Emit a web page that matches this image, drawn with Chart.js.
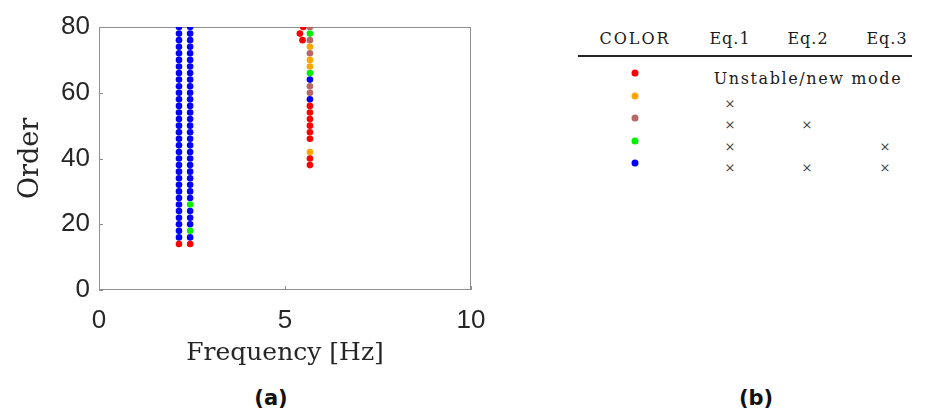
<!DOCTYPE html>
<html>
<head>
<meta charset="utf-8">
<script src="https://cdn.jsdelivr.net/npm/chart.js@4/dist/chart.umd.min.js"></script>
<style>
  body { margin: 0; background: #fff; width: 931px; height: 412px; overflow: hidden; position: relative; }
  #plot { position: absolute; left: 0; top: 0; width: 520px; height: 380px; }
  .t { position: absolute; transform: translate(-50%, -50%); white-space: nowrap; color: #1a1a1a;
       font-family: "DejaVu Serif", serif; font-size: 16px; }
  .dot { position: absolute; width: 7px; height: 7px; border-radius: 50%; transform: translate(-50%, -50%); }
  .cap { position: absolute; transform: translate(-50%, -50%); font-family: "DejaVu Sans", sans-serif;
         font-weight: bold; font-size: 21px; color: #111; }
  #rule { position: absolute; left: 578px; top: 55px; width: 334px; height: 2px; background: #222; }
</style>
</head>
<body>
<div id="plot"><canvas id="c"></canvas></div>

<div class="t" style="left:635px;top:38px;letter-spacing:2px">COLOR</div>
<div class="t" style="left:730px;top:38px;letter-spacing:1px">Eq.1</div>
<div class="t" style="left:808px;top:38px;letter-spacing:1px">Eq.2</div>
<div class="t" style="left:887px;top:38px;letter-spacing:1px">Eq.3</div>
<div id="rule"></div>
<div id="legendRows"></div>

<div class="cap" style="left:271px;top:398px">(a)</div>
<div class="cap" style="left:756px;top:398px">(b)</div>

<script>
// stabilization diagram: classes 0 = unstable/new, 1 = Eq.1, 2 = Eq.1+2, 3 = Eq.1+3, 4 = all
const classNames = ['Unstable/new mode', 'Eq.1', 'Eq.1 + Eq.2', 'Eq.1 + Eq.3', 'Eq.1 + Eq.2 + Eq.3'];
const classColors = ['#ff0000', '#ffa500', '#b86767', '#00f000', '#0000ff'];

const orders = [14, 16, 18, 20, 22, 24, 26, 28, 30, 32, 34, 36, 38, 40, 42, 44, 46,
                48, 50, 52, 54, 56, 58, 60, 62, 64, 66, 68, 70, 72, 74, 76, 78, 80];

const col1Freq = 2.15;
const col1Class = [0, 4, 4, 4, 4, 4, 4, 4, 4, 4, 4, 4, 4, 4, 4, 4, 4,
                   4, 4, 4, 4, 4, 4, 4, 4, 4, 4, 4, 4, 4, 4, 4, 4, 4];

const col2Freq = 2.45;
const col2Class = [0, 4, 3, 4, 4, 4, 3, 4, 4, 4, 4, 4, 4, 4, 4, 4, 4,
                   4, 4, 4, 4, 4, 4, 4, 4, 4, 4, 4, 4, 4, 4, 4, 4, 4];

const col3Freq = 5.67;
const col3Class = [null, null, null, null, null, null, null, null, null, null, null, null, 0, 0, 1, null, 0,
                   0, 0, 0, 0, 0, 4, 2, 2, 4, 3, 1, 1, 2, 1, 2, 3, 2];

// scattered unstable poles left of the third column
const extraFreq = [5.49, 5.40, 5.47];
const extraOrder = [80, 78, 76];

const yTicks = [0, 20, 40, 60, 80];
const xTicks = [0, 5, 10];

// group poles by class
const groups = classColors.map(() => []);
function addColumn(freq, classes) {
    classes.forEach((k, i) => {
        if (k !== null) groups[k].push({ x: freq, y: orders[i] });
    });
}
addColumn(col1Freq, col1Class);
addColumn(col2Freq, col2Class);
addColumn(col3Freq, col3Class);
extraFreq.forEach((f, i) => groups[0].push({ x: f, y: extraOrder[i] }));

const datasets = groups.map((pts, k) => ({
    label: classNames[k],
    data: pts,
    backgroundColor: classColors[k],
    borderWidth: 0,
    pointRadius: 3.3,
    pointHoverRadius: 3.3
}));

// axes box with small inward ticks
const boxPlugin = {
    id: 'box',
    beforeDatasetsDraw(chart) {
        const { ctx, chartArea: a, scales } = chart;
        ctx.save();
        ctx.strokeStyle = '#8f8f8f';
        ctx.lineWidth = 1;
        ctx.strokeRect(a.left + 0.5, a.top + 0.5, a.right - a.left - 1, a.bottom - a.top - 1);
        ctx.beginPath();
        yTicks.forEach(v => {
            const py = Math.round(scales.y.getPixelForValue(v)) + 0.5;
            ctx.moveTo(a.left, py); ctx.lineTo(a.left + 4, py);
        });
        xTicks.forEach(v => {
            const px = Math.round(scales.x.getPixelForValue(v)) + 0.5;
            ctx.moveTo(px, a.bottom); ctx.lineTo(px, a.bottom - 4);
        });
        ctx.stroke();
        ctx.restore();
    }
};

new Chart(document.getElementById('c'), {
    type: 'scatter',
    data: { datasets },
    options: {
        responsive: true,
        maintainAspectRatio: false,
        animation: false,
        events: [],
        layout: { padding: { left: 15, top: 27, right: 49, bottom: 12 } },
        plugins: { legend: { display: false }, tooltip: { enabled: false } },
        scales: {
            x: {
                type: 'linear', min: 0, max: 10,
                afterBuildTicks: s => { s.ticks = xTicks.map(v => ({ value: v })); },
                afterFit: s => { s.height = 78; },
                grid: { display: false, drawTicks: false },
                border: { display: false },
                ticks: { padding: 15, color: '#262626', font: { family: 'Liberation Sans', size: 26 } },
                title: { display: true, text: 'Frequency [Hz]', padding: 0, color: '#262626',
                         font: { family: 'DejaVu Serif', size: 25, lineHeight: 1.2 } }
            },
            y: {
                type: 'linear', min: 0, max: 80,
                afterBuildTicks: s => { s.ticks = yTicks.map(v => ({ value: v })); },
                afterFit: s => { s.width = 84; },
                grid: { display: false, drawTicks: false },
                border: { display: false },
                ticks: { padding: 9, color: '#262626', font: { family: 'Liberation Sans', size: 26 } },
                title: { display: true, text: 'Order', padding: 0, color: '#262626',
                         font: { family: 'DejaVu Serif', size: 27, lineHeight: 1.2 } }
            }
        }
    },
    plugins: [boxPlugin]
});

// legend table (b)
const rowDotY = [73, 96, 118, 141, 163];
const rowMarkY = [78, 103, 124, 146, 167];
const rowMarks = [null, [1, 0, 0], [1, 1, 0], [1, 0, 1], [1, 1, 1]];
const eqX = [730, 807, 885];
const rows = document.getElementById('legendRows');
let html = '';
classColors.forEach((c, k) => {
    html += `<div class="dot" style="left:635px;top:${rowDotY[k]}px;background:${c}"></div>`;
    if (rowMarks[k] === null) {
        html += `<div class="t" style="left:808px;top:${rowMarkY[k]}px;letter-spacing:1.6px">${classNames[0]}</div>`;
    } else {
        rowMarks[k].forEach((m, j) => {
            if (m) html += `<div class="t" style="left:${eqX[j]}px;top:${rowMarkY[k]}px;font-size:13px;color:#444">×</div>`;
        });
    }
});
rows.innerHTML = html;
</script>
</body>
</html>
